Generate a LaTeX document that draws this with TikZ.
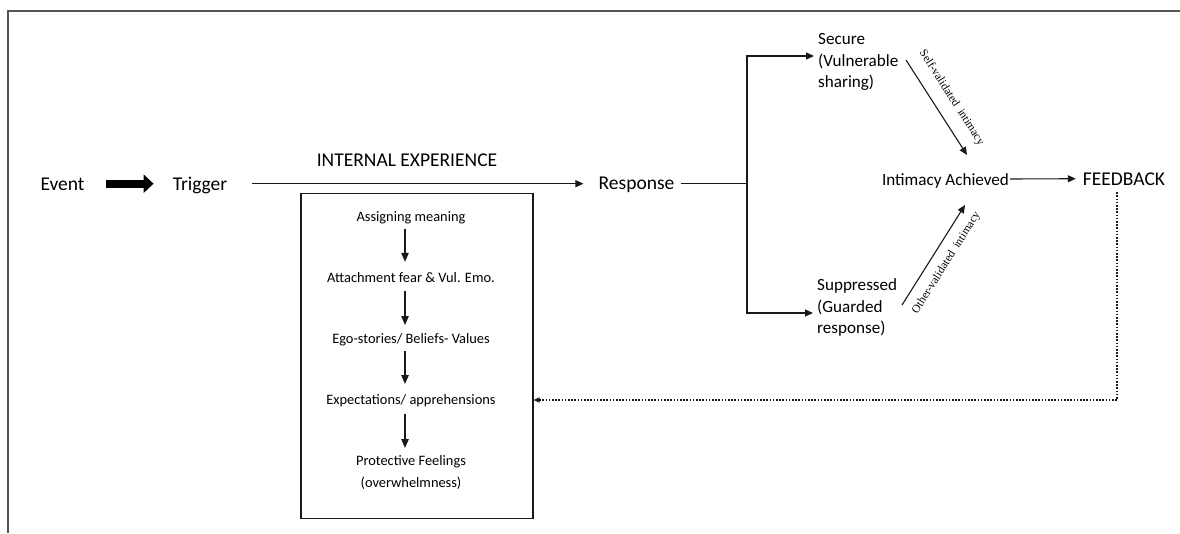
\documentclass[tikz,border=0pt]{standalone}
\usepackage{fontspec}
\setmainfont{Carlito}
\newfontfamily\labelserif{Liberation Serif}
\usetikzlibrary{arrows.meta}
\definecolor{framegray}{RGB}{85,85,85}
\definecolor{ink}{RGB}{25,25,25}
\begin{document}
\begin{tikzpicture}[x=1pt,y=-1pt,
  big/.style={font=\fontsize{19.5}{21.5}\selectfont, inner sep=0pt, text height=12.6pt, text depth=0pt, anchor=base},
  mid/.style={font=\fontsize{17.1}{21.5}\selectfont, inner sep=0pt, text height=12pt, text depth=0pt, anchor=base},
  multi/.style={font=\fontsize{17.1}{21.5}\selectfont, inner sep=0pt, align=left, anchor=north west},
  small/.style={font=\fontsize{14.4}{21.5}\selectfont, inner sep=0pt, text height=9.3pt, text depth=0pt, anchor=base},
  conn/.style={line width=1.1pt, draw=ink},
  arr/.style={conn, -{Triangle[length=8pt,width=7pt]}},
  darr/.style={conn, -{Triangle[length=9pt,width=7.5pt]}},
  dots/.style={line width=1.1pt, draw=ink, dash pattern=on 1.6pt off 1.6pt, -{Triangle[length=6pt,width=5pt]}},
  slab/.style={font=\labelserif\fontsize{11.5}{12}\selectfont, inner sep=0pt, sloped, midway},
  boxframe/.style={draw=ink, line width=1.1pt, inner sep=0pt, minimum width=232pt, minimum height=325pt}
]
\useasboundingbox (0,0) rectangle (1180,533);

% outer frame edges
\draw[line width=2pt, draw=framegray] (8,533) -- (8,11) -- (1180,11);

% main row
\node[big] (ev) at (62.5,190) {Event};
\node[big] (tr) at (200,190) {Trigger};
\node[big] (resp) at (636.5,189.5) {Response};
\draw[line width=8pt, draw=black, -{Triangle[length=10pt,width=18pt]}, shorten <=21pt, shorten >=19pt] (ev.east) -- (tr.west);
\draw[arr, shorten <=25pt, shorten >=15pt] (tr.east) -- (tr.east -| resp.west)
  node[big, pos=0.484, above=16.7pt] {INTERNAL EXPERIENCE};

% branch points
\coordinate (bt) at (747,56);
\coordinate (bb) at (747,313);
\node[multi] (sec) at (818,33.5) {Secure\\(Vulnerable\\sharing)};
\node[multi] (sup) at (817,278.5) {Suppressed\\(Guarded\\response)};
\draw[conn, shorten <=6pt] (resp.east) -- (resp.east -| bt);
\draw[arr, shorten >=4pt] (bb) -- (bt) -- (bt -| sec.west);
\draw[arr, shorten >=4pt] (bt) -- (bb) -- (bb -| sup.west);

% outcome
\node[mid] (ia) at (945.5,185) {Intimacy Achieved};
\node[big] (fb) at (1124,185) {FEEDBACK};
\draw[arr, shorten <=1pt, shorten >=7pt] (ia.east) -- (fb.west);

\coordinate (s1) at (906,60);
\coordinate (s2) at (967,155);
\draw[arr] (s1) -- (s2) node[slab, above=12pt] {Self-validated\ \ intimacy};
\coordinate (o1) at (902,305);
\coordinate (o2) at (965,205);
\draw[arr] (o1) -- (o2) node[slab, below=9.5pt] {Other-validated\ \ intimacy};

% internal experience box
\node[boxframe] (box) at (417,356) {};
\node[small] (m1) at (411,221.3) {Assigning meaning};
\node[small] (m2) at (411,282.3) {Attachment fear \& Vul. Emo.};
\node[small] (m3) at (411,343.5) {Ego-stories/ Beliefs- Values};
\node[small] (m4) at (411,404.5) {Expectations/ apprehensions};
\node[font=\fontsize{14.4}{21.5}\selectfont, inner sep=0pt, align=center, anchor=north] (m5) at (411,455.5) {Protective Feelings\\(overwhelmness)};
\coordinate (ax) at (405,0);
\draw[darr, shorten <=7pt, shorten >=11pt] (m1.south -| ax) -- (m2.north -| ax);
\draw[darr, shorten <=8pt, shorten >=9pt] (m2.south -| ax) -- (m3.north -| ax);
\draw[darr, shorten <=7pt, shorten >=11pt] (m3.south -| ax) -- (m4.north -| ax);
\draw[darr, shorten <=9pt, shorten >=7.5pt] (m4.south -| ax) -- (m5.north -| ax);

% feedback loop
\coordinate (dc) at (1117,400);
\draw[dots, shorten <=7pt] (fb.south -| dc) -- (dc) -- (dc -| box.east);
\end{tikzpicture}
\end{document}
